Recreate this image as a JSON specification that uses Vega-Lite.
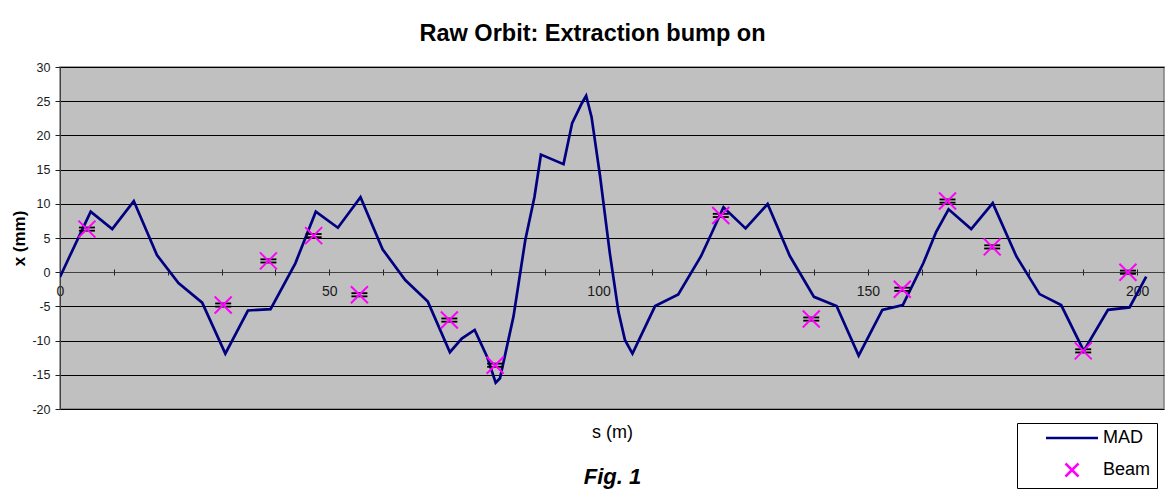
{
  "$schema": "https://vega.github.io/schema/vega-lite/v6.json",
  "autosize": "none",
  "padding": {"left": 60, "top": 67, "right": 6, "bottom": 83},
  "width": 1104,
  "height": 342,
  "background": "white",
  "title": {
    "text": "Raw Orbit: Extraction bump on",
    "fontSize": 23.5,
    "fontWeight": "bold",
    "font": "Liberation Sans",
    "color": "black",
    "anchor": "middle",
    "baseline": "alphabetic",
    "dx": -19.5,
    "offset": -3
  },
  "config": {
    "font": "Liberation Sans",
    "view": {"fill": "#C0C0C0", "stroke": "#808080", "strokeWidth": 1.5}
  },
  "datasets": {
    "mad": [
      {"s": 0, "x": -0.7}, {"s": 1.6, "x": 2.0}, {"s": 5.7, "x": 8.85}, {"s": 9.7, "x": 6.3},
      {"s": 13.7, "x": 10.4}, {"s": 18.0, "x": 2.5}, {"s": 22.0, "x": -1.6}, {"s": 26.4, "x": -4.45},
      {"s": 30.7, "x": -11.9}, {"s": 34.9, "x": -5.6}, {"s": 39.1, "x": -5.4}, {"s": 43.7, "x": 1.3},
      {"s": 47.5, "x": 8.85}, {"s": 51.6, "x": 6.5}, {"s": 55.8, "x": 10.95}, {"s": 59.9, "x": 3.35},
      {"s": 64.1, "x": -1.15}, {"s": 68.3, "x": -4.3}, {"s": 72.4, "x": -11.7}, {"s": 74.6, "x": -9.7},
      {"s": 77.0, "x": -8.45}, {"s": 79.3, "x": -12.35}, {"s": 80.9, "x": -16.15}, {"s": 81.7, "x": -15.5},
      {"s": 84.2, "x": -6.5}, {"s": 86.4, "x": 4.7}, {"s": 88.1, "x": 11.0}, {"s": 89.3, "x": 17.2},
      {"s": 93.5, "x": 15.8}, {"s": 95.1, "x": 21.8}, {"s": 96.9, "x": 24.7}, {"s": 97.7, "x": 25.8},
      {"s": 98.7, "x": 22.7}, {"s": 100.3, "x": 13.95}, {"s": 102.1, "x": 2.75}, {"s": 103.7, "x": -5.8},
      {"s": 104.9, "x": -9.9}, {"s": 106.3, "x": -11.9}, {"s": 110.5, "x": -4.95}, {"s": 114.8, "x": -3.25},
      {"s": 119.0, "x": 2.3}, {"s": 121.0, "x": 5.7}, {"s": 123.2, "x": 9.5}, {"s": 127.3, "x": 6.4},
      {"s": 131.4, "x": 9.97}, {"s": 135.5, "x": 2.4}, {"s": 140.0, "x": -3.6}, {"s": 144.2, "x": -4.95},
      {"s": 148.3, "x": -12.2}, {"s": 152.7, "x": -5.5}, {"s": 156.5, "x": -4.8}, {"s": 160.3, "x": 1.3},
      {"s": 162.7, "x": 5.9}, {"s": 165.0, "x": 9.2}, {"s": 169.2, "x": 6.3}, {"s": 173.2, "x": 10.1},
      {"s": 177.6, "x": 2.3}, {"s": 181.9, "x": -3.2}, {"s": 185.9, "x": -4.8}, {"s": 190.1, "x": -11.5},
      {"s": 194.6, "x": -5.5}, {"s": 198.6, "x": -5.15}, {"s": 201.7, "x": -0.65}
    ],
    "beam": [
      {"s": 5.0, "x": 6.3, "series": "Beam"}, {"s": 30.3, "x": -4.8, "series": "Beam"},
      {"s": 38.7, "x": 1.65, "series": "Beam"}, {"s": 47.1, "x": 5.35, "series": "Beam"},
      {"s": 55.6, "x": -3.3, "series": "Beam"}, {"s": 72.3, "x": -7.0, "series": "Beam"},
      {"s": 80.8, "x": -13.6, "series": "Beam"}, {"s": 122.7, "x": 8.3, "series": "Beam"},
      {"s": 139.5, "x": -6.85, "series": "Beam"}, {"s": 156.4, "x": -2.5, "series": "Beam"},
      {"s": 164.8, "x": 10.4, "series": "Beam"}, {"s": 173.1, "x": 3.7, "series": "Beam"},
      {"s": 190.0, "x": -11.5, "series": "Beam"}, {"s": 198.3, "x": 0.0, "series": "Beam"}
    ]
  },
  "resolve": {"axis": {"x": "independent"}},
  "encoding": {
    "y": {
      "field": "x", "type": "quantitative",
      "scale": {"domain": [-20, 30], "nice": false},
      "axis": {
        "values": [-20,-15,-10,-5,0,5,10,15,20,25,30],
        "labelExpr": "toString(datum.value)",
        "grid": true, "gridColor": "black", "gridWidth": 1,
        "domainColor": "#404040", "tickColor": "#202020", "tickSize": 5, "labelPadding": 5,
        "labelFontSize": 12.5, "labelColor": "#1a1a1a",
        "title": "x (mm)", "titleFontSize": 17, "titleFontWeight": "bold", "titleColor": "black", "titlePadding": 3
      }
    }
  },
  "layer": [
    {
      "data": {"name": "mad"},
      "mark": {"type": "line", "color": "#000080", "strokeWidth": 2.7, "clip": true},
      "encoding": {
        "x": {
          "field": "s", "type": "quantitative",
          "scale": {"domain": [0, 205], "nice": false, "zero": false},
          "axis": {
            "orient": "bottom", "offset": -137, "values": [0,10,20,30,40,50,60,70,80,90,100,110,120,130,140,150,160,170,180,190,200],
            "labelExpr": "datum.value % 50 === 0 ? toString(datum.value) : ''",
            "grid": false, "domainColor": "#404040", "domainWidth": 1.2, "tickColor": "#202020", "tickSize": 3, "tickWidth": 1,
            "labelFontSize": 14, "labelColor": "#1a1a1a", "labelPadding": 9, "labelFlush": false,
            "title": "s (m)", "titleFontSize": 18, "titleFontWeight": "normal", "titleColor": "black", "titlePadding": 125
          }
        }
      }
    },
    {
      "data": {"name": "beam"},
      "mark": {"type": "tick", "orient": "horizontal", "color": "black", "size": 16, "thickness": 1.8, "yOffset": -1.6, "opacity": 1},
      "encoding": {
        "x": {"field": "s", "type": "quantitative", "axis": null}
      }
    },
    {
      "data": {"name": "beam"},
      "mark": {"type": "tick", "orient": "horizontal", "color": "black", "size": 16, "thickness": 1.8, "yOffset": 1.6, "opacity": 1},
      "encoding": {
        "x": {"field": "s", "type": "quantitative", "axis": null}
      }
    },
    {
      "data": {"name": "beam"},
      "mark": {"type": "point", "filled": false, "size": 289, "strokeWidth": 2, "opacity": 1},
      "encoding": {
        "x": {
          "field": "s", "type": "quantitative",
          "axis": {
            "orient": "bottom", "offset": -137, "values": [0,10,20,30,40,50,60,70,80,90,100,110,120,130,140,150,160,170,180,190,200],
            "labels": false, "domain": false, "grid": false, "tickColor": "#202020", "tickSize": -3, "tickWidth": 1,
            "title": "Fig. 1", "titleFontSize": 22, "titleFontWeight": "bold", "titleFontStyle": "italic", "titleColor": "black", "titlePadding": 194
          }
        },
        "color": {
          "field": "series", "type": "nominal",
          "scale": {"domain": ["MAD", "Beam"], "range": ["#000080", "#FF00FF"]},
          "legend": {
            "title": null, "orient": "none", "legendX": 957, "legendY": 356,
            "strokeColor": "black", "fillColor": "white", "padding": 6,
            "symbolSize": 169, "symbolStrokeWidth": 2.5, "symbolOffset": 40,
            "labelFontSize": 18, "labelColor": "black", "labelOffset": 22, "rowPadding": 11, "cornerRadius": 0
          }
        },
        "shape": {
          "field": "series", "type": "nominal",
          "scale": {"domain": ["MAD", "Beam"], "range": ["M-4,0L4,0", "M-1,-1L1,1M-1,1L1,-1"]}
        }
      }
    }
  ]
}
